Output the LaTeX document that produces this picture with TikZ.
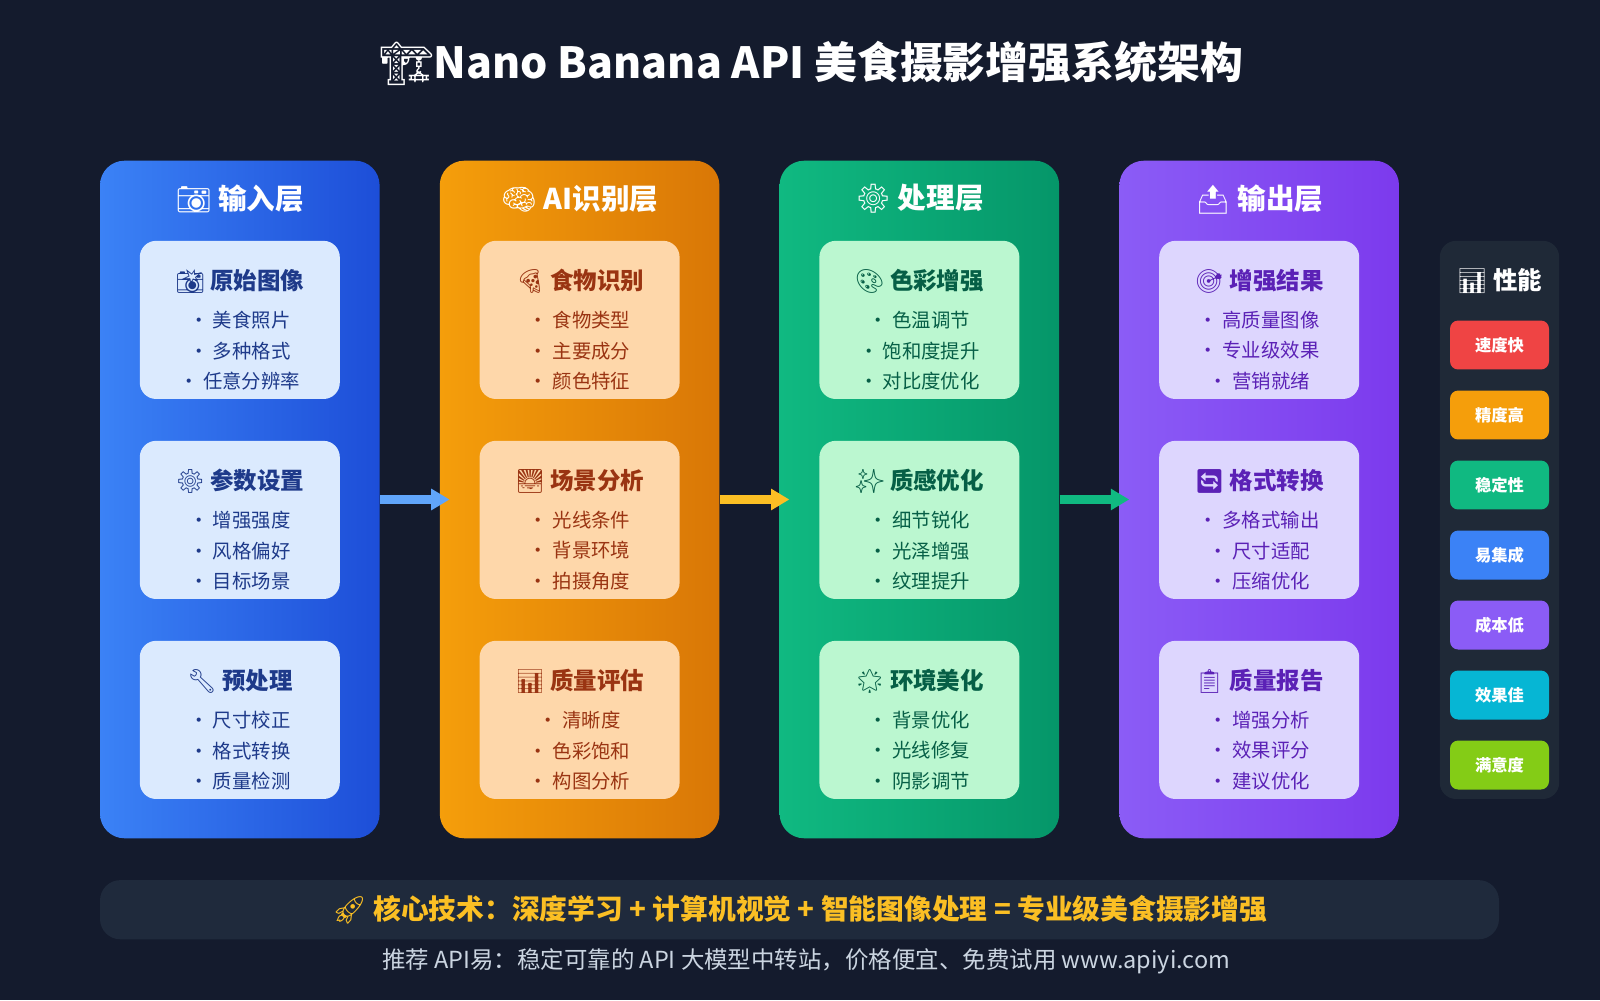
\documentclass[tikz,border=0pt]{standalone}
\usepackage{fontspec}
\setmainfont{Noto Sans CJK SC}
\newfontfamily\emoji{Noto Emoji}
\usetikzlibrary{positioning,arrows.meta}
\definecolor{bgdark}{HTML}{141B2D}
\definecolor{barbg}{HTML}{1F2A3C}
\definecolor{panelbg}{HTML}{1F2937}
\newcommand{\colcard}[9]{% name, palette, x, y, emoji, title, item1, item2, item3
  \node[card, fill=#2card] (#1) at (#3,#4) {};
  \node[cardtitle, text=#2ink] (#1t) at ([yshift=-20pt]#1.north) {{\emoji #5} #6};
  \node[cardtext, text=#2ink] (#1i) at ([yshift=-54pt]#1.north)
    {• #7\\ • #8\\ • #9};
}
\definecolor{incard}{HTML}{DBEAFE}\definecolor{inink}{HTML}{1E3A8A}
\definecolor{aicard}{HTML}{FED7AA}\definecolor{aiink}{HTML}{9A3412}
\definecolor{procard}{HTML}{BBF7D0}\definecolor{proink}{HTML}{065F46}
\definecolor{outcard}{HTML}{DDD6FE}\definecolor{outink}{HTML}{5B21B6}
\definecolor{inA}{HTML}{3B82F6}\definecolor{inB}{HTML}{1D4ED8}
\definecolor{aiA}{HTML}{F59E0B}\definecolor{aiB}{HTML}{D97706}
\definecolor{proA}{HTML}{10B981}\definecolor{proB}{HTML}{059669}
\definecolor{outA}{HTML}{8B5CF6}\definecolor{outB}{HTML}{7C3AED}
\begin{document}
\begin{tikzpicture}[x=0.5pt, y=-0.5pt,
    layer/.style={rounded corners=12pt, minimum width=137pt, minimum height=332pt, inner sep=0pt},
    head/.style={text=white, font=\bfseries\fontsize{14}{16}\selectfont},
    card/.style={rounded corners=8pt, minimum width=98pt, minimum height=77.5pt, inner sep=0pt},
    cardtitle/.style={font=\bfseries\fontsize{11.5}{13}\selectfont},
    cardtext/.style={font=\fontsize{9.5}{14.75}\selectfont, align=center},
    flow/.style={line width=4pt, -{Triangle[length=9pt,width=10pt]}},
    badge/.style={rounded corners=4pt, minimum width=48.5pt, minimum height=24pt, inner sep=0pt,
      text=white, font=\bfseries\fontsize{8}{9}\selectfont},
  ]
  \fill[bgdark] (0,0) rectangle (1568,980);
  \useasboundingbox (0,0) rectangle (1568,980);
  \node[text=white, font=\bfseries\fontsize{21}{25}\selectfont] (title) at (795,62)
    {{\emoji 🏗️}Nano Banana API 美食摄影增强系统架构};

  % layers
  \node[layer, left color=inA, right color=inB] (input) at (235,489.5) {};
  \node[layer, left color=aiA, right color=aiB] (ai) at (568,489.5) {};
  \node[layer, left color=proA, right color=proB] (proc) at (901,489.5) {};
  \node[layer, left color=outA, right color=outB] (output) at (1234,489.5) {};
  \node[head] at ([yshift=-19pt]input.north) {{\emoji 📷} 输入层};
  \node[head] at ([yshift=-19pt]ai.north) {{\emoji 🧠} AI识别层};
  \node[head] at ([yshift=-19pt]proc.north) {{\emoji ⚙️} 处理层};
  \node[head] at ([yshift=-19pt]output.north) {{\emoji 📤} 输出层};

  % cards
  \colcard{raw}{in}{235}{313.5}{📸}{原始图像}{美食照片}{多种格式}{任意分辨率}
  \colcard{param}{in}{235}{509.5}{⚙️}{参数设置}{增强强度}{风格偏好}{目标场景}
  \colcard{prep}{in}{235}{705.5}{🔧}{预处理}{尺寸校正}{格式转换}{质量检测}
  \colcard{food}{ai}{568}{313.5}{🍕}{食物识别}{食物类型}{主要成分}{颜色特征}
  \colcard{scene}{ai}{568}{509.5}{🌅}{场景分析}{光线条件}{背景环境}{拍摄角度}
  \colcard{qual}{ai}{568}{705.5}{📊}{质量评估}{清晰度}{色彩饱和}{构图分析}
  \colcard{color}{pro}{901}{313.5}{🎨}{色彩增强}{色温调节}{饱和度提升}{对比度优化}
  \colcard{texture}{pro}{901}{509.5}{✨}{质感优化}{细节锐化}{光泽增强}{纹理提升}
  \colcard{env}{pro}{901}{705.5}{🌟}{环境美化}{背景优化}{光线修复}{阴影调节}
  \colcard{result}{out}{1234}{313.5}{🎯}{增强结果}{高质量图像}{专业级效果}{营销就绪}
  \colcard{format}{out}{1234}{509.5}{🔄}{格式转换}{多格式输出}{尺寸适配}{压缩优化}
  \colcard{report}{out}{1234}{705.5}{📋}{质量报告}{增强分析}{效果评分}{建议优化}

  % arrows
  \draw[flow, color={rgb,255:red,96;green,165;blue,250}] (input.east) -- ([xshift=5pt]ai.west);
  \draw[flow, color={rgb,255:red,251;green,191;blue,36}] (ai.east) -- ([xshift=5pt]proc.west);
  \draw[flow, color={rgb,255:red,16;green,185;blue,129}] (proc.east) -- ([xshift=5pt]output.west);

  % performance
  \node[fill=panelbg, rounded corners=8pt, minimum width=58.5pt, minimum height=273.5pt, inner sep=0pt] (perf) at (1469.5,509.5) {};
  \node[text=white, font=\bfseries\fontsize{12}{14}\selectfont] (perft) at ([yshift=-20pt]perf.north) {{\emoji 📊} 性能};
  \foreach \lab/\col [count=\i] in {速度快/EF4444, 精度高/F59E0B, 稳定性/10B981, 易集成/3B82F6, 成本低/8B5CF6, 效果佳/06B6D4, 满意度/84CC16}{
    \definecolor{bcol}{HTML}{\col}
    \node[badge, fill=bcol] (badge\i) at (1469.5, 269.5+68.6*\i) {\lab};
  }

  % bottom
  \node[fill=barbg, rounded corners=10pt, minimum width=685.5pt, minimum height=29pt, inner sep=0pt] (bar) at (783.5,891.5) {};
  \node[text={rgb,255:red,251;green,191;blue,36}, font=\bfseries\fontsize{13.6}{15}\selectfont] (core) at (bar)
    {{\emoji 🚀} 核心技术：深度学习 + 计算机视觉 + 智能图像处理 = 专业级美食摄影增强};
  \node[text={rgb,255:red,203;green,213;blue,225}, font=\fontsize{11.5}{13}\selectfont] (foot) at (790,942)
    {推荐 API易：稳定可靠的 API 大模型中转站，价格便宜、免费试用 www.apiyi.com};
\end{tikzpicture}
\end{document}
